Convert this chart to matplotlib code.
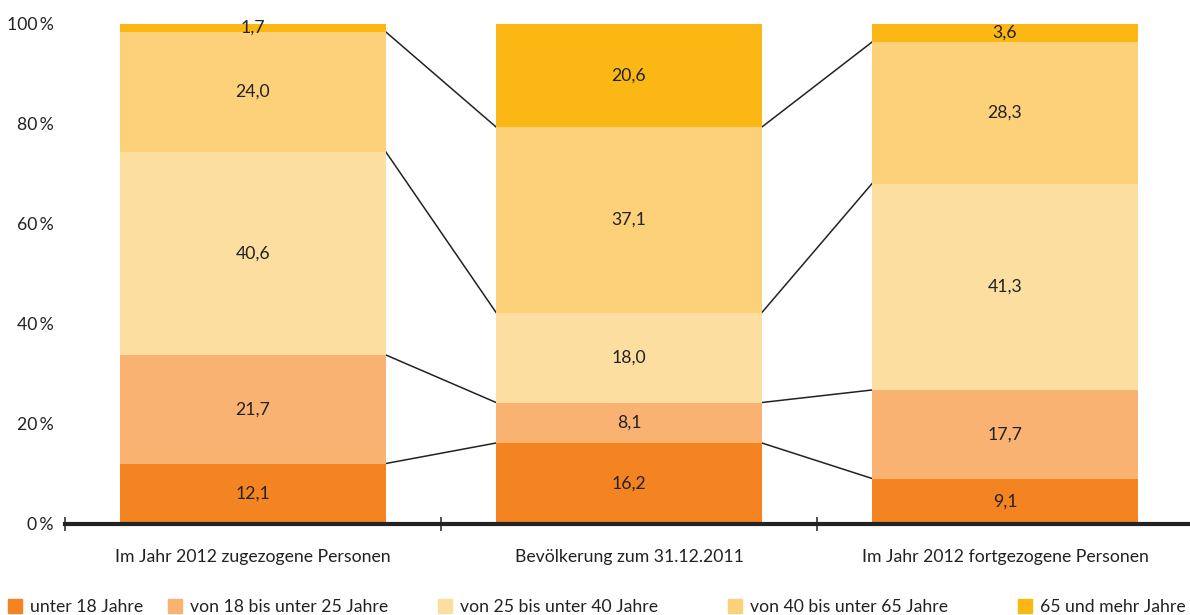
import numpy as np
import matplotlib.pyplot as plt
from matplotlib.patches import Rectangle

plt.rcParams['font.family'] = ['Lato', 'DejaVu Sans']

categories = ['Im Jahr 2012 zugezogene Personen', 'Bevölkerung zum 31.12.2011',
              'Im Jahr 2012 fortgezogene Personen']
age_groups = ['unter 18 Jahre', 'von 18 bis unter 25 Jahre', 'von 25 bis unter 40 Jahre',
              'von 40 bis unter 65 Jahre', '65 und mehr Jahre']
# share in percent per category, one array per age group
unter18 = np.array([12.1, 16.2, 9.1])
von18bis25 = np.array([21.7, 8.1, 17.7])
von25bis40 = np.array([40.6, 18.0, 41.3])
von40bis65 = np.array([24.0, 37.1, 28.3])
ab65 = np.array([1.7, 20.6, 3.6])
series = [unter18, von18bis25, von25bis40, von40bis65, ab65]
yticks = [0, 20, 40, 60, 80, 100]

colors = ['#F38421', '#FAB273', '#FDDEA1', '#FDD07A', '#FBB815']
txt = '#222222'
fs = 12.7

fig = plt.figure(figsize=(11.9, 6.15), dpi=100)
ax = fig.add_axes([65/1190, 91/615, 1128/1190, (591 - 91)/615])

x = np.arange(len(categories))
width = 0.707
bottom = np.zeros(len(categories))
tops = []
for vals, col in zip(series, colors):
    ax.bar(x, vals, width, bottom=bottom, color=col, zorder=2)
    for xi, b, v in zip(x, bottom, vals):
        ax.text(xi, b + v / 2, f'{v:.1f}'.replace('.', ','), ha='center', va='center',
                fontsize=fs, color=txt, zorder=3)
    bottom = bottom + vals
    tops.append(bottom.copy())

# connector lines between neighbouring bars at each boundary
for t in tops[:-1]:
    for i in range(len(categories) - 1):
        ax.plot([x[i] + width / 2, x[i + 1] - width / 2], [t[i], t[i + 1]],
                color=txt, lw=1.1, zorder=1)

ax.set_xlim(-0.5, 2.5)
ax.set_ylim(0, 100)
ax.set_yticks(yticks)
ax.set_yticklabels([f'{v}\u2009%' for v in yticks])
ax.tick_params(axis='y', length=0, pad=8, labelsize=fs, labelcolor=txt)
ax.set_xticks(x)
ax.set_xticklabels(categories)
ax.tick_params(axis='x', which='major', length=0, pad=18, labelsize=fs, labelcolor=txt)
ax.set_xticks(np.arange(len(categories) + 1) - 0.5, minor=True)
ax.tick_params(axis='x', which='minor', length=10, direction='inout', width=1.1, color=txt)

for s in ['left', 'right', 'top']:
    ax.spines[s].set_visible(False)
ax.spines['bottom'].set_linewidth(3)
ax.spines['bottom'].set_color(txt)
ax.spines['bottom'].set_zorder(4)

# legend along the bottom edge
leg_x = [8, 168, 438, 728, 1018]
for lx, lab, col in zip(leg_x, age_groups, colors):
    fig.patches.append(Rectangle((lx/1190, 2/615), 14/1190, 14/615,
                                 transform=fig.transFigure, color=col))
    fig.text((lx + 22)/1190, 8/615, lab, ha='left', va='center', fontsize=fs, color=txt)

fig.savefig('out.png', dpi=100)
